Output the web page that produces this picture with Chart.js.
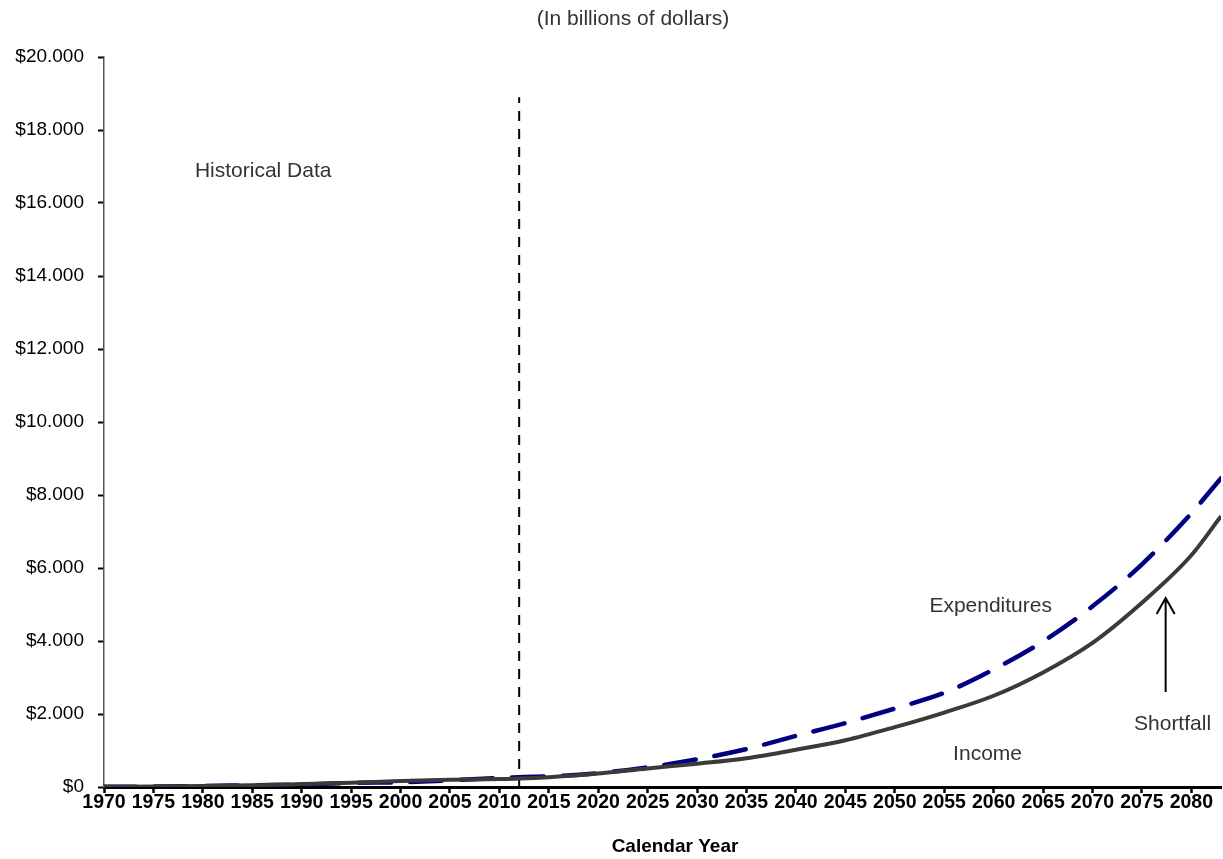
<!DOCTYPE html>
<html><head><meta charset="utf-8">
<script src="https://cdn.jsdelivr.net/npm/chart.js@4.4.1/dist/chart.umd.min.js"></script>
<style>html,body{margin:0;padding:0;background:#fff;}#wrap{width:1223px;height:859px;}</style>
</head><body><div id="wrap"><canvas id="c" width="1223" height="859"></canvas></div>
<script>
// ---- Data (billions of dollars) ----
const years        = [1970, 1975, 1980, 1985, 1990, 1995, 2000, 2005, 2010, 2012, 2015, 2020, 2025, 2030, 2035, 2040, 2045, 2050, 2055, 2060, 2065, 2070, 2075, 2080, 2083];
const expenditures = [5, 13, 25, 48, 67, 114, 131, 182, 247, 270, 290, 380, 540, 760, 1040, 1400, 1750, 2150, 2580, 3220, 3990, 4950, 6100, 7500, 8460];
const income       = [6, 12, 26, 47, 80, 115, 167, 199, 216, 230, 270, 370, 510, 640, 790, 1020, 1280, 1640, 2040, 2500, 3140, 3950, 5050, 6350, 7420];
const dividerYear = 2012;
const dividerTop = 18900;
const titleText = '(In billions of dollars)';
const xAxisTitle = 'Calendar Year';
const labels = [
  {text: 'Historical Data', x: 1979.2, y: 16880},
  {text: 'Expenditures',    x: 2053.5, y: 4960},
  {text: 'Income',          x: 2055.9, y: 904},
  {text: 'Shortfall',       x: 2074.2, y: 1726}
];
const arrow = {x: 2077.4, from: 2600, to: 5180};

const FONT = '"Liberation Sans", Arial, sans-serif';

const annotations = {
  id: 'annotations',
  afterDatasetsDraw(chart) {
    const {ctx, scales: {x, y}} = chart;
    ctx.save();
    ctx.fillStyle = '#333';
    ctx.font = '21px ' + FONT;
    ctx.textBaseline = 'middle';
    ctx.textAlign = 'left';
    labels.forEach(l => ctx.fillText(l.text, x.getPixelForValue(l.x), y.getPixelForValue(l.y)));
    // title
    ctx.textAlign = 'center';
    ctx.fillText(titleText, 633, 19);
    // x axis title
    ctx.fillStyle = '#000';
    ctx.font = 'bold 19px ' + FONT;
    ctx.fillText(xAxisTitle, 675, 847);
    // arrow
    const ax = x.getPixelForValue(arrow.x);
    const y1 = y.getPixelForValue(arrow.from);
    const y2 = y.getPixelForValue(arrow.to);
    ctx.strokeStyle = '#000';
    ctx.lineWidth = 2;
    ctx.beginPath();
    ctx.moveTo(ax, y1); ctx.lineTo(ax, y2);
    ctx.moveTo(ax - 9, y2 + 16); ctx.lineTo(ax, y2); ctx.lineTo(ax + 9, y2 + 16);
    ctx.stroke();
    ctx.restore();
  }
};

const toPts = arr => years.map((yr, i) => ({x: yr, y: arr[i]}));

new Chart(document.getElementById('c'), {
  type: 'line',
  data: {
    datasets: [
      {label: 'Income', data: toPts(income), borderColor: '#3a3a3a', borderWidth: 4,
       pointRadius: 0, cubicInterpolationMode: 'monotone', order: 0},
      {label: 'Expenditures', data: toPts(expenditures), borderColor: '#000080', borderWidth: 4.5,
       borderDash: [32, 19], borderCapStyle: 'round', pointRadius: 0, cubicInterpolationMode: 'monotone', order: 1},
      {label: 'divider', data: [{x: dividerYear, y: 0}, {x: dividerYear, y: dividerTop}],
       borderColor: '#000', borderWidth: 2, borderDash: [10, 8], pointRadius: 0, order: 2}
    ]
  },
  options: {
    responsive: false,
    animation: false,
    layout: {padding: {top: 57, right: 2, left: 0, bottom: 0}},
    plugins: {legend: {display: false}, tooltip: {enabled: false}, title: {display: false}},
    scales: {
      x: {
        type: 'linear', min: 1970, max: 2083,
        afterFit: s => { s.height = 72; },
        grid: {drawOnChartArea: false, drawTicks: true, tickLength: 6, tickWidth: 2.5, tickColor: '#000'},
        border: {display: true, color: '#000', width: 3},
        ticks: {stepSize: 5, includeBounds: false, autoSkip: false, maxRotation: 0, padding: 0,
                color: '#000', font: {family: FONT, size: 19.5, weight: 'bold', lineHeight: 1},
                callback: v => String(v)},
        title: {display: false}
      },
      y: {
        min: 0, max: 20000,
        afterFit: s => { s.width = 104; },
        grid: {drawOnChartArea: false, drawTicks: true, tickLength: 6, tickWidth: 2, tickColor: '#000'},
        border: {display: true, color: '#555', width: 1.5},
        ticks: {stepSize: 2000, padding: 14, color: '#000', font: {family: FONT, size: 19},
                callback: v => v === 0 ? '$0' : '$' + (v / 1000) + '.000'}
      }
    }
  },
  plugins: [annotations]
});
</script></body></html>
